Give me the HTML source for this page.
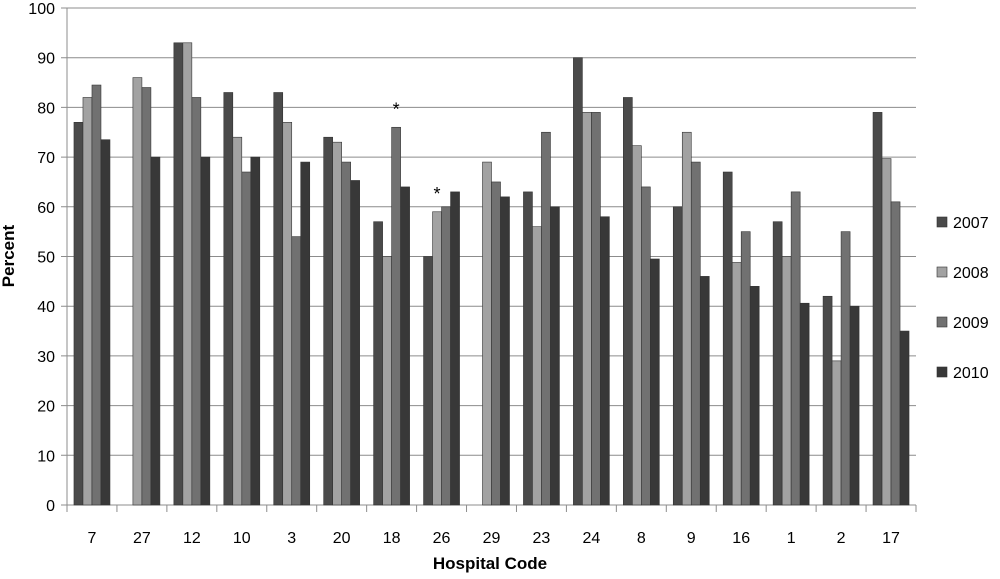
<!DOCTYPE html>
<html><head><meta charset="utf-8"><style>
body{margin:0;background:#fff;font-family:"Liberation Sans",sans-serif}
</style></head><body>
<svg id="chart" width="1000" height="574" xmlns="http://www.w3.org/2000/svg" font-family="Liberation Sans, sans-serif"></svg>
<script>
const categories=["7","27","12","10","3","20","18","26","29","23","24","8","9","16","1","2","17"];
const s2007=[77,null,93,83,83,74,57,50,null,63,90,82,60,67,57,42,79];
const s2008=[82,86,93,74,77,73,50,59,69,56,79,72.3,75,48.8,50,29,69.7];
const s2009=[84.5,84,82,67,54,69,76,60,65,75,79,64,69,55,63,55,61];
const s2010=[73.5,70,70,70,69,65.3,64,63,62,60,58,49.5,46,44,40.6,40,35];
const seriesNames=["2007","2008","2009","2010"];
const yTicks=[0,10,20,30,40,50,60,70,80,90,100];
const series=[s2007,s2008,s2009,s2010];
const colors=["#4a4a4a","#a2a2a2","#717171","#383838"];
const svg=document.getElementById('chart');
const NS="http://www.w3.org/2000/svg";
const L=67,R=916,T=8,B=505;
const y=v=>B-(v/100)*(B-T);
const cw=(R-L)/categories.length;
const x=i=>L+i*cw;
function mk(t,a,p){const e=document.createElementNS(NS,t);for(const k in a)e.setAttribute(k,a[k]);(p||svg).appendChild(e);return e;}
yTicks.forEach(t=>{
 const g=mk('line',{x1:L-6,x2:R,y1:y(t),y2:y(t),stroke:'#8c8c8c','stroke-width':1});
 
 
 const tx=mk('text',{x:L-12,y:y(t)+6,'text-anchor':'end','font-size':16,fill:'#000'});tx.textContent=t;
 
 
});
const ax=mk('line',{x1:L,x2:L,y1:T,y2:B,stroke:'#8c8c8c'});


const bw=9;
categories.forEach((c,i)=>{
 const cx=x(i)+cw/2;
 series.forEach((s,k)=>{
  const v=s[i]; if(v==null)return;
  const r=mk('rect',{x:cx-2*bw+k*bw,y:y(v),width:bw,height:B-y(v),fill:colors[k],stroke:'#333','stroke-width':0.6});
  
  
 });
 const tk=mk('line',{x1:x(i),x2:x(i),y1:B,y2:B+7,stroke:'#8c8c8c'});
 
 
 const t=mk('text',{x:cx,y:543,'text-anchor':'middle','font-size':16});t.textContent=c;
 
 
});
const tk2=mk('line',{x1:R,x2:R,y1:B,y2:B+7,stroke:'#8c8c8c'});


// asterisks
[[6,2,76],[7,1,59]].forEach(([i,k,v])=>{
 const cx=x(i)+cw/2-2*bw+k*bw+bw/2;
 const t=mk('text',{x:cx,y:y(v)-12,'text-anchor':'middle','font-size':18});t.textContent='*';
 
 
});
seriesNames.forEach((n,k)=>{
 const ly=227+k*50;
 const r=mk('rect',{x:937,y:ly-10,width:10,height:10,fill:colors[k],stroke:'#333','stroke-width':0.6});
 
 
 const t=mk('text',{x:953,y:ly+1,'font-size':16});t.textContent=n;
 
 
});
const xt=mk('text',{x:490,y:569,'text-anchor':'middle','font-size':17,'font-weight':'bold'});xt.textContent='Hospital Code';


const yt=mk('text',{x:0,y:0,'text-anchor':'middle','font-size':17,'font-weight':'bold',transform:'translate(14,256) rotate(-90)'});yt.textContent='Percent';


</script>
</body></html>
